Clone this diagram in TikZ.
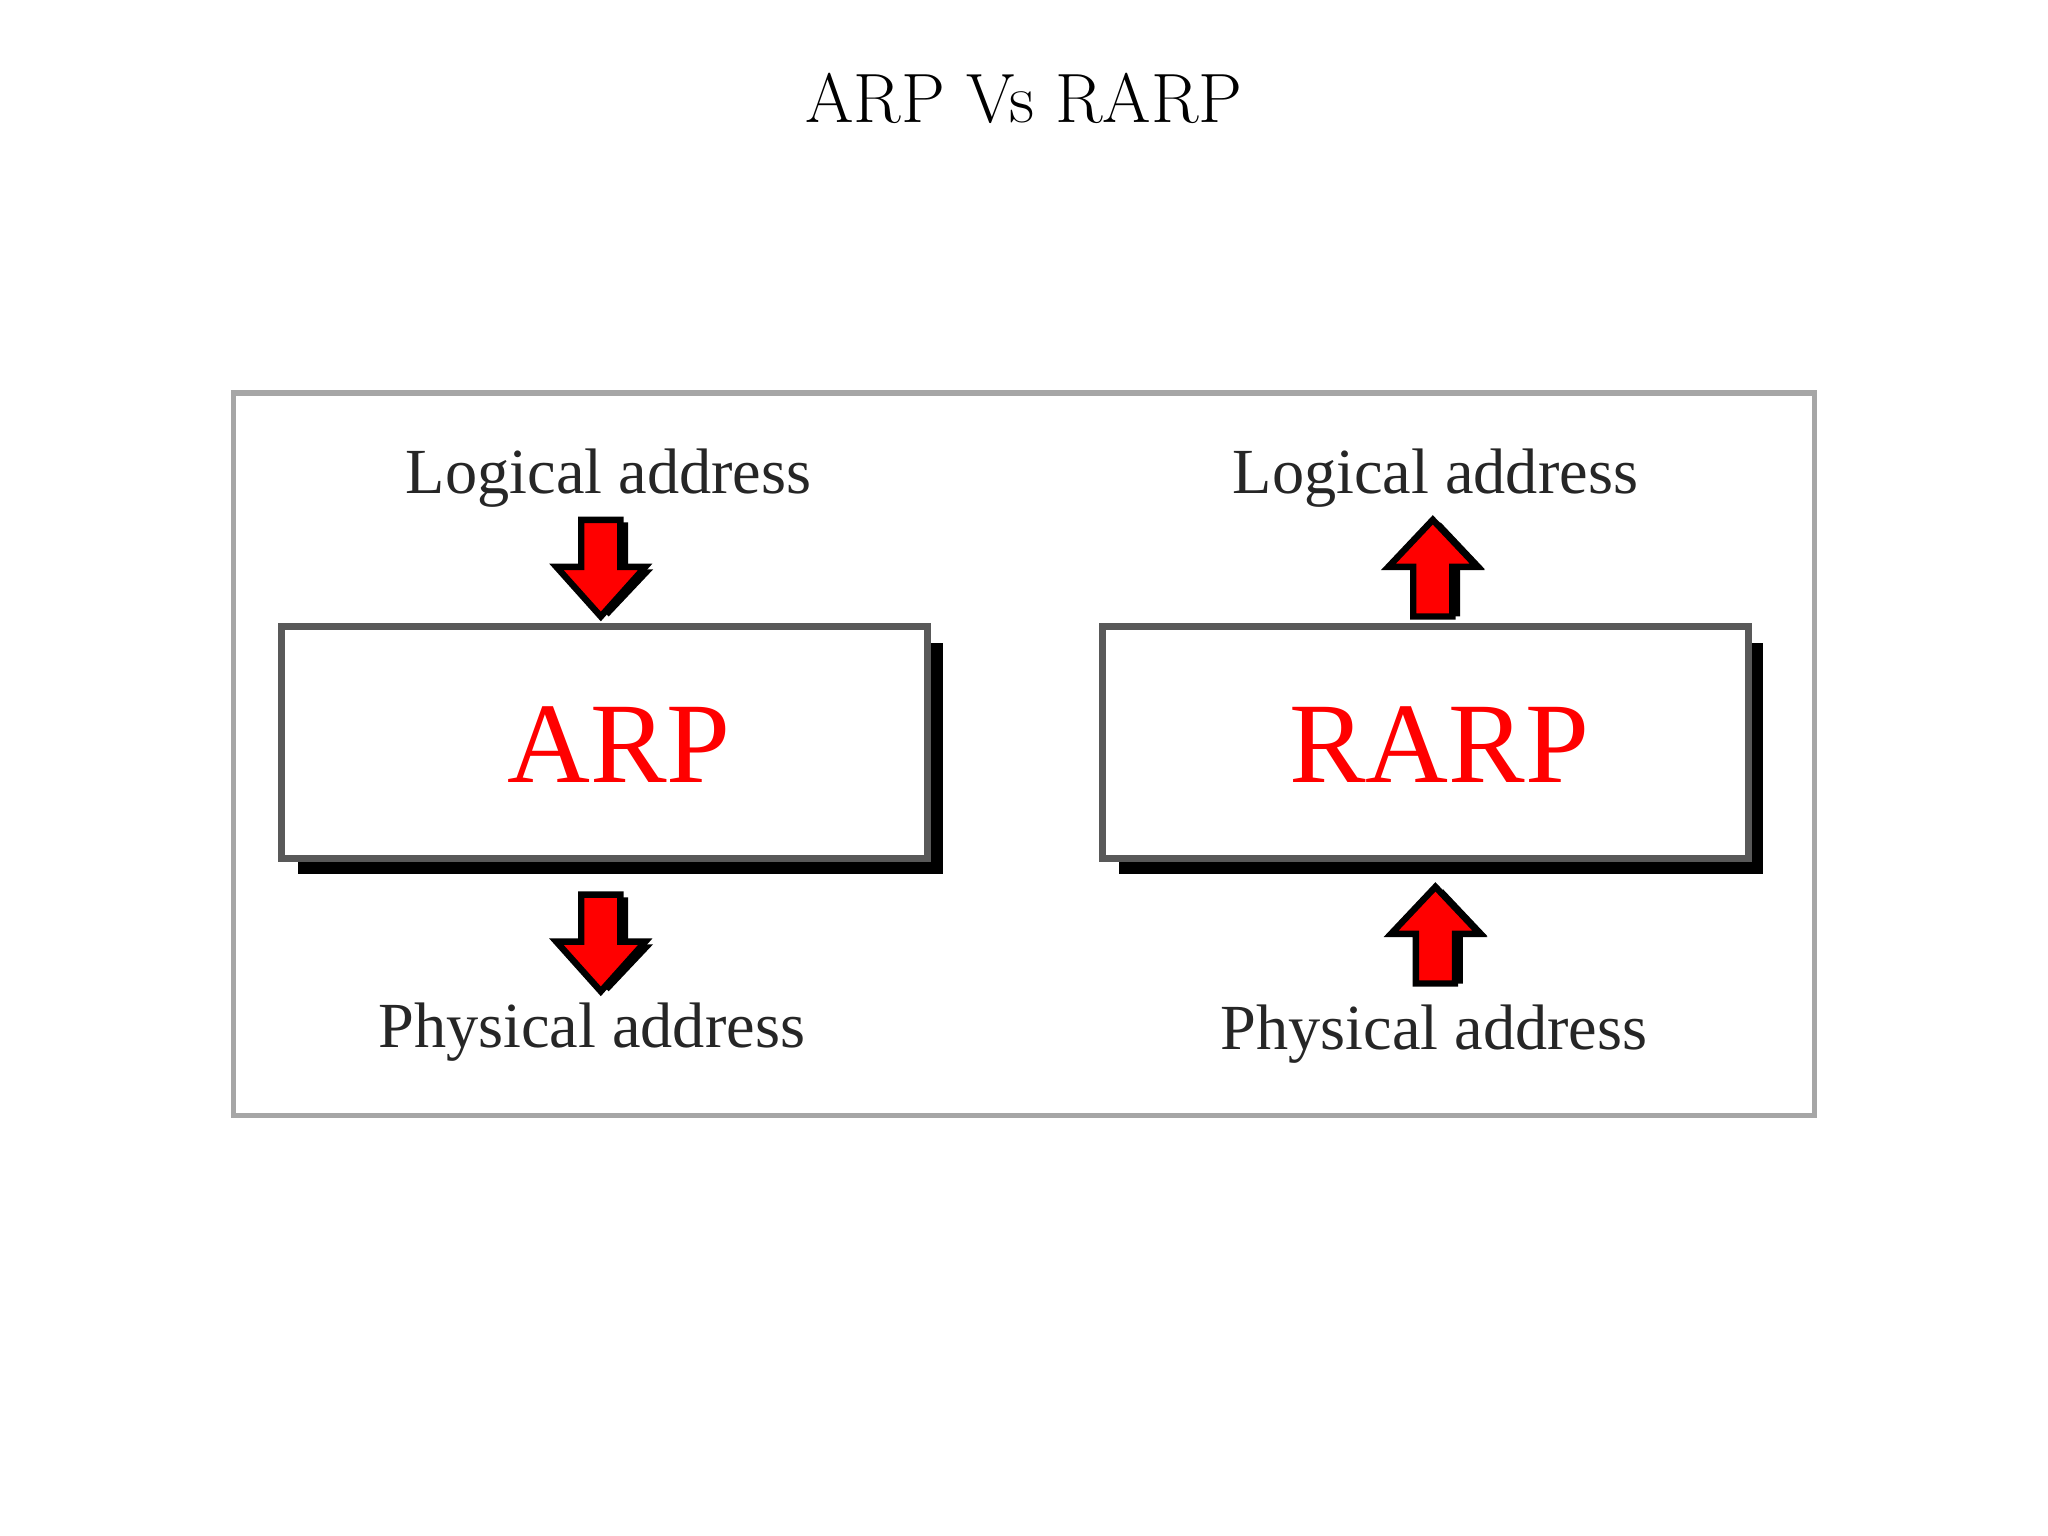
\documentclass[tikz,border=0pt]{standalone}
\usepackage{fontspec}
\newfontfamily\tms{Liberation Serif}
\begin{document}
\begin{tikzpicture}[x=0.01cm,y=-0.01cm,
  lbl/.style={font=\tms\fontsize{14}{16}\selectfont, text=black!85},
  box/.style={draw=black!65, line width=1.5pt, fill=white, minimum width=4.94cm, minimum height=1.77cm, inner sep=0pt},
  big/.style={font=\tms\fontsize{25}{30}\selectfont, text=red},
  arr/.style={fill=red, draw=black, line width=1.4pt, line join=miter}]
\useasboundingbox (0,0) rectangle (1568,1176);
\node[font=\fontsize{15.2}{18}\selectfont] (title) at (784,75) {ARP Vs RARP};
\node[draw=black!35, line width=1.2pt, minimum width=12.1cm, minimum height=5.53cm, inner sep=0pt] (frame) at (784,577.5) {};
% shadows
\fill[black] (228,492) rectangle (722,669);
\fill[black] (857,492) rectangle (1350,669);
\node[box] (arp) at (463,568.5) {};
\node[box] (rarp) at (1091.5,568.5) {};
\node[big] (arpt) at (474,570) {ARP};
\node[big] (rarpt) at (1102,570) {RARP};
\node[lbl] (l1) at (466,366) {Logical address};
\node[lbl] (l2) at (1099,366) {Logical address};
\node[lbl] (p1) at (453,790) {Physical address};
\node[lbl] (p2) at (1098,792) {Physical address};
% down arrows
\foreach \cx/\cy in {460/398, 460/685}{
  \fill[black] (\cx+6-15,\cy+2) -- (\cx+6+15,\cy+2) -- (\cx+6+15,\cy+38) -- (\cx+6+34,\cy+38) -- (\cx+6,\cy+74) -- (\cx+6-34,\cy+38) -- (\cx+6-15,\cy+38) -- cycle;
  \draw[arr] (\cx-15,\cy) -- (\cx+15,\cy) -- (\cx+15,\cy+36) -- (\cx+34,\cy+36) -- (\cx,\cy+74) -- (\cx-34,\cy+36) -- (\cx-15,\cy+36) -- cycle;
}
% up arrows
\foreach \cx/\cy in {1097/472, 1099/753}{
  \fill[black] (\cx+6-15,\cy) -- (\cx+6+15,\cy) -- (\cx+6+15,\cy-36) -- (\cx+6+34,\cy-36) -- (\cx+6,\cy-72) -- (\cx+6-34,\cy-36) -- (\cx+6-15,\cy-36) -- cycle;
  \draw[arr] (\cx-15,\cy) -- (\cx+15,\cy) -- (\cx+15,\cy-38) -- (\cx+34,\cy-38) -- (\cx,\cy-74) -- (\cx-34,\cy-38) -- (\cx-15,\cy-38) -- cycle;
}
\end{tikzpicture}
\end{document}
